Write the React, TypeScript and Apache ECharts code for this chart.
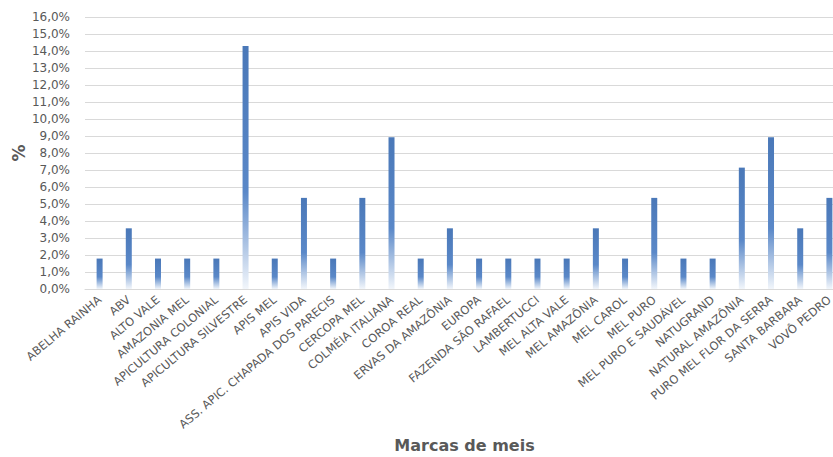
import React, { useEffect, useRef } from "react";
import * as echarts from "echarts";

const categories = [
  "ABELHA RAINHA",
  "ABV",
  "ALTO VALE",
  "AMAZONIA MEL",
  "APICULTURA COLONIAL",
  "APICULTURA SILVESTRE",
  "APIS MEL",
  "APIS VIDA",
  "ASS. APIC. CHAPADA DOS PARECIS",
  "CERCOPA MEL",
  "COLMÉIA ITALIANA",
  "COROA REAL",
  "ERVAS DA AMAZÔNIA",
  "EUROPA",
  "FAZENDA SÃO RAFAEL",
  "LAMBERTUCCI",
  "MEL ALTA VALE",
  "MEL AMAZÔNIA",
  "MEL CAROL",
  "MEL PURO",
  "MEL PURO E SAUDÁVEL",
  "NATUGRAND",
  "NATURAL AMAZÔNIA",
  "PURO MEL FLOR DA SERRA",
  "SANTA BARBARA",
  "VOVÔ PEDRO",
];

const percentValues = [
  1.79, 3.57, 1.79, 1.79, 1.79, 14.29, 1.79, 5.36, 1.79, 5.36, 8.93, 1.79, 3.57,
  1.79, 1.79, 1.79, 1.79, 3.57, 1.79, 5.36, 1.79, 1.79, 7.14, 8.93, 3.57, 5.36,
];

const yMin = 0;
const yMax = 16;
const yInterval = 1;

const xAxisTitle = "Marcas de meis";
const yAxisTitle = "%";

export default function App() {
  const ref = useRef<HTMLDivElement>(null);

  useEffect(() => {
    if (!ref.current) return;
    const chart = echarts.init(ref.current, null, { renderer: "svg" });
    const gray = "#595959";
    const font = "DejaVu Sans";
    chart.setOption({
      animation: false,
      backgroundColor: "#ffffff",
      textStyle: { fontFamily: font },
      grid: {
        left: 85,
        top: 17,
        width: 759,
        height: 272,
        containLabel: false,
        outerBoundsMode: "none",
      },
      xAxis: {
        type: "category",
        data: categories,
        name: xAxisTitle,
        nameLocation: "middle",
        nameGap: 148,
        nameMoveOverlap: false,
        nameTextStyle: {
          fontSize: 16,
          fontWeight: "bold",
          color: gray,
          fontFamily: font,
        },
        axisLine: { lineStyle: { color: "#d9d9d9", width: 1 } },
        axisTick: { show: false },
        axisLabel: {
          interval: 0,
          rotate: 40,
          fontSize: 11.5,
          color: gray,
          margin: 9,
          fontFamily: font,
        },
      },
      yAxis: {
        type: "value",
        min: yMin,
        max: yMax,
        interval: yInterval,
        name: yAxisTitle,
        nameLocation: "middle",
        nameRotate: 90,
        nameGap: 58,
        nameMoveOverlap: false,
        nameTextStyle: {
          fontSize: 17,
          fontWeight: "bold",
          color: gray,
          fontFamily: font,
        },
        axisLine: { show: false },
        axisTick: { show: false },
        splitLine: { lineStyle: { color: "#d9d9d9", width: 1 } },
        axisLabel: {
          fontSize: 12,
          color: gray,
          margin: 15,
          fontFamily: font,
          formatter: (v: number) => v.toFixed(1).replace(".", ",") + "%",
        },
      },
      series: [
        {
          type: "bar",
          data: percentValues,
          barWidth: 6,
          itemStyle: {
            color: new echarts.graphic.LinearGradient(0, 0, 0, 1, [
              { offset: 0, color: "#4a78b8" },
              { offset: 0.6, color: "#5a88c8" },
              { offset: 1, color: "#f2f6fb" },
            ]),
          },
        },
      ],
    });
    return () => chart.dispose();
  }, []);

  return (
    <div
      ref={ref}
      style={{ position: "fixed", left: 0, top: 0, width: 833, height: 457 }}
    />
  );
}
